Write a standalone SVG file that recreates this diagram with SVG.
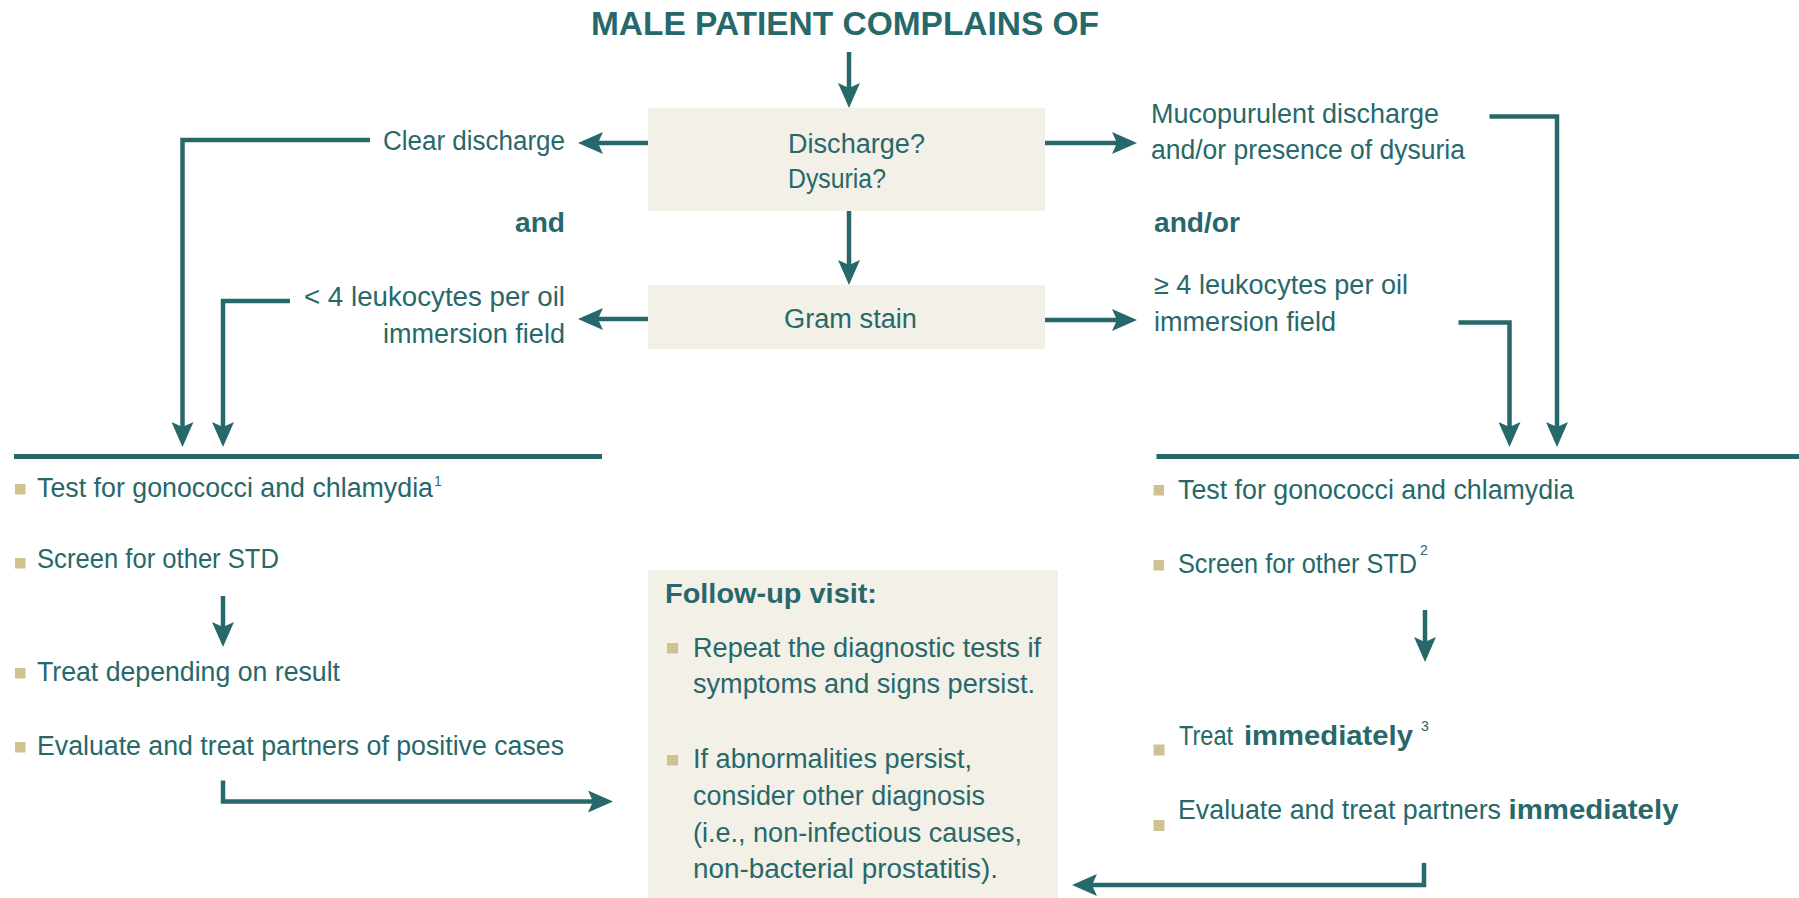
<svg xmlns="http://www.w3.org/2000/svg" width="1799" height="898" viewBox="0 0 1799 898">
  <style>
    .t { font-family: "Liberation Sans", Arial, sans-serif; font-size: 27px; fill: #27686b; }
    .b { font-family: "Liberation Sans", Arial, sans-serif; font-size: 28px; font-weight: bold; fill: #27686b; }
    .sup { font-family: "Liberation Sans", Arial, sans-serif; font-size: 14px; fill: #27686b; }
    .title { font-family: "Liberation Sans", Arial, sans-serif; font-size: 34px; font-weight: bold; fill: #27686b; }
    .box { fill: #f3f0e7; }
    .bullet { fill: #cfc190; }
    .line { fill: none; stroke: #27686b; stroke-width: 4.5; }
    .rule { fill: none; stroke: #27686b; stroke-width: 5; }
  </style>
  <defs>
    <marker id="arrow" markerUnits="userSpaceOnUse" markerWidth="25" markerHeight="22" viewBox="0 0 25 22" refX="5" refY="11" orient="auto">
      <path d="M0,0 L25,11 L0,22 L5,11 Z" fill="#27686b"/>
    </marker>
  </defs>

  <rect width="1799" height="898" fill="#ffffff"/>

  <!-- heading -->
  <g id="title">
    <text class="title" x="591" y="35" textLength="508" lengthAdjust="spacingAndGlyphs">MALE PATIENT COMPLAINS OF</text>
  </g>

  <!-- question boxes -->
  <g id="node-question">
    <rect class="box" x="648" y="108" width="397" height="103"/>
    <text class="t" x="788" y="153" textLength="137" lengthAdjust="spacingAndGlyphs">Discharge?</text>
    <text class="t" x="788" y="188" textLength="98" lengthAdjust="spacingAndGlyphs">Dysuria?</text>
  </g>
  <g id="node-gram">
    <rect class="box" x="648" y="285" width="397" height="64"/>
    <text class="t" x="784" y="328" textLength="133" lengthAdjust="spacingAndGlyphs">Gram stain</text>
  </g>

  <!-- left findings -->
  <g id="node-clear">
    <text class="t" x="383" y="150" textLength="182" lengthAdjust="spacingAndGlyphs">Clear discharge</text>
  </g>
  <g id="node-and">
    <text class="b" x="515" y="232" textLength="50" lengthAdjust="spacingAndGlyphs">and</text>
  </g>
  <g id="node-few-leukocytes">
    <text class="t" x="304" y="306" textLength="261" lengthAdjust="spacingAndGlyphs">&lt; 4 leukocytes per oil</text>
    <text class="t" x="383" y="343" textLength="182" lengthAdjust="spacingAndGlyphs">immersion field</text>
  </g>

  <!-- right findings -->
  <g id="node-mucopurulent">
    <text class="t" x="1151" y="122.5" textLength="288" lengthAdjust="spacingAndGlyphs">Mucopurulent discharge</text>
    <text class="t" x="1151" y="159" textLength="314" lengthAdjust="spacingAndGlyphs">and/or presence of dysuria</text>
  </g>
  <g id="node-andor">
    <text class="b" x="1154" y="232" textLength="86" lengthAdjust="spacingAndGlyphs">and/or</text>
  </g>
  <g id="node-many-leukocytes">
    <text class="t" x="1154" y="294" textLength="254" lengthAdjust="spacingAndGlyphs">≥ 4 leukocytes per oil</text>
    <text class="t" x="1154" y="331" textLength="182" lengthAdjust="spacingAndGlyphs">immersion field</text>
  </g>

  <!-- left management column -->
  <g id="node-left-plan">
    <line class="rule" x1="14" y1="456.5" x2="602" y2="456.5"/>
    <rect class="bullet" x="15" y="484" width="10.5" height="10.5"/>
    <text class="t" x="37" y="497" textLength="396" lengthAdjust="spacingAndGlyphs">Test for gonococci and chlamydia</text>
    <text class="sup" x="434" y="486" font-size="12">1</text>
    <rect class="bullet" x="15" y="558" width="10.5" height="10.5"/>
    <text class="t" x="37" y="568" textLength="242" lengthAdjust="spacingAndGlyphs">Screen for other STD</text>
    <rect class="bullet" x="15" y="668" width="10.5" height="10.5"/>
    <text class="t" x="37" y="680.5" textLength="303" lengthAdjust="spacingAndGlyphs">Treat depending on result</text>
    <rect class="bullet" x="15" y="742" width="10.5" height="10.5"/>
    <text class="t" x="37" y="755" textLength="527" lengthAdjust="spacingAndGlyphs">Evaluate and treat partners of positive cases</text>
  </g>

  <!-- right management column -->
  <g id="node-right-plan">
    <line class="rule" x1="1156.5" y1="456.5" x2="1799" y2="456.5"/>
    <rect class="bullet" x="1153.5" y="485" width="10.5" height="10.5"/>
    <text class="t" x="1178" y="499" textLength="396" lengthAdjust="spacingAndGlyphs">Test for gonococci and chlamydia</text>
    <rect class="bullet" x="1153.5" y="560" width="10.5" height="10.5"/>
    <text class="t" x="1178" y="573" textLength="239" lengthAdjust="spacingAndGlyphs">Screen for other STD</text>
    <text class="sup" x="1420" y="555">2</text>
    <rect class="bullet" x="1153.5" y="744.5" width="11" height="11"/>
    <text class="t" x="1179" y="744.5" textLength="54" lengthAdjust="spacingAndGlyphs">Treat</text>
    <text class="b" x="1244" y="744.5" textLength="169" lengthAdjust="spacingAndGlyphs">immediately</text>
    <text class="sup" x="1421" y="731" font-size="13">3</text>
    <rect class="bullet" x="1153.5" y="820" width="11" height="11"/>
    <text class="t" x="1178" y="818.5" textLength="323" lengthAdjust="spacingAndGlyphs">Evaluate and treat partners</text>
    <text class="b" x="1508.5" y="818.5" textLength="170" lengthAdjust="spacingAndGlyphs">immediately</text>
  </g>

  <!-- follow-up panel -->
  <g id="node-follow-up">
    <rect class="box" x="648" y="570" width="410" height="328"/>
    <text class="b" x="665" y="603" textLength="212" lengthAdjust="spacingAndGlyphs">Follow-up visit:</text>
    <rect class="bullet" x="667" y="643" width="11" height="10.5"/>
    <text class="t" x="693" y="657" textLength="348" lengthAdjust="spacingAndGlyphs">Repeat the diagnostic tests if</text>
    <text class="t" x="693" y="693" textLength="342" lengthAdjust="spacingAndGlyphs">symptoms and signs persist.</text>
    <rect class="bullet" x="667" y="755" width="11" height="10.5"/>
    <text class="t" x="693" y="768" textLength="279" lengthAdjust="spacingAndGlyphs">If abnormalities persist,</text>
    <text class="t" x="693" y="805" textLength="292" lengthAdjust="spacingAndGlyphs">consider other diagnosis</text>
    <text class="t" x="693" y="842" textLength="329" lengthAdjust="spacingAndGlyphs">(i.e., non-infectious causes,</text>
    <text class="t" x="693" y="878" textLength="305" lengthAdjust="spacingAndGlyphs">non-bacterial prostatitis).</text>
  </g>

  <!-- connectors -->
  <g id="connectors">
    <path class="line" d="M849,52 V88" marker-end="url(#arrow)"/>
    <path class="line" d="M849,211 V265" marker-end="url(#arrow)"/>
    <path class="line" d="M648,143 H598" marker-end="url(#arrow)"/>
    <path class="line" d="M648,319 H598" marker-end="url(#arrow)"/>
    <path class="line" d="M1045,143 H1117" marker-end="url(#arrow)"/>
    <path class="line" d="M1045,320 H1117" marker-end="url(#arrow)"/>
    <path class="line" d="M370,140 H182.5 V427" marker-end="url(#arrow)"/>
    <path class="line" d="M290,301 H223 V427" marker-end="url(#arrow)"/>
    <path class="line" d="M1489.5,116.5 H1557 V427" marker-end="url(#arrow)"/>
    <path class="line" d="M1458.5,322.5 H1509.5 V427" marker-end="url(#arrow)"/>
    <path class="line" d="M223,596 V627" marker-end="url(#arrow)"/>
    <path class="line" d="M223,780.5 V801.5 H593" marker-end="url(#arrow)"/>
    <path class="line" d="M1425,610 V642" marker-end="url(#arrow)"/>
    <path class="line" d="M1424,863 V885 H1092" marker-end="url(#arrow)"/>
  </g>
</svg>
